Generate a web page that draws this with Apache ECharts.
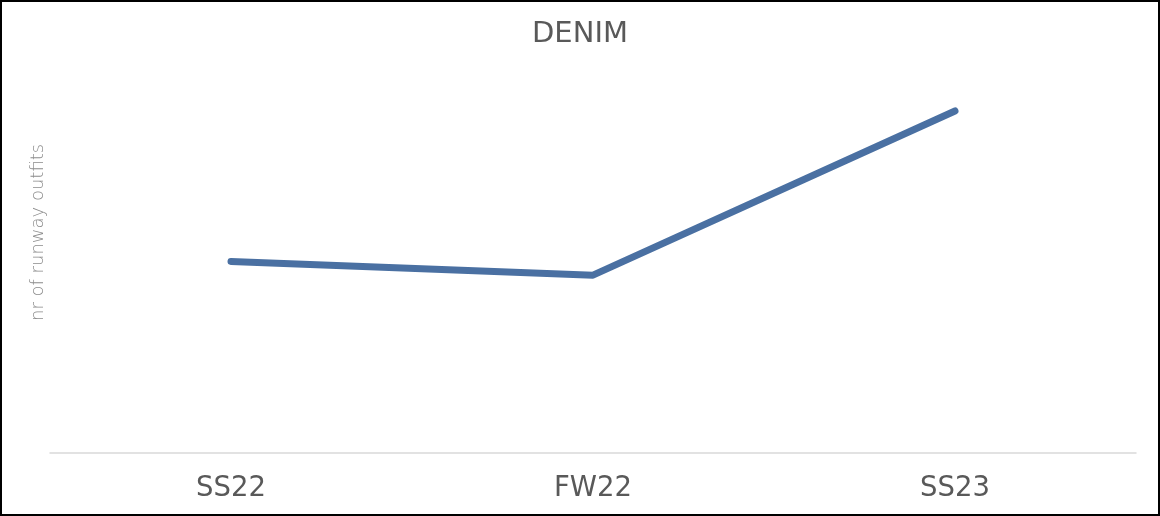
<!DOCTYPE html>
<html>
<head>
<meta charset="utf-8">
<script src="https://cdn.jsdelivr.net/npm/echarts@6/dist/echarts.min.js"></script>
<style>
html,body{margin:0;padding:0;background:#fff;}
#chart{position:absolute;left:0;top:0;width:1160px;height:516px;}
#frame{position:absolute;left:0;top:0;width:1160px;height:516px;box-sizing:border-box;border:2px solid #000;pointer-events:none;}
</style>
</head>
<body>
<div id="chart"></div>
<div id="frame"></div>
<script>
const categories = ["SS22", "FW22", "SS23"];
const outfits = [56, 52, 100];
const chartTitle = "DENIM";
const yName = "nr of runway outfits";

const chart = echarts.init(document.getElementById('chart'), null, {renderer: 'canvas'});
chart.setOption({
  animation: false,
  backgroundColor: '#ffffff',
  title: {
    text: chartTitle,
    left: 'center',
    top: 15,
    textStyle: {fontFamily: 'DejaVu Sans', fontSize: 29, fontWeight: 'normal', color: '#595959'}
  },
  grid: {left: 50, right: 24, top: 11.82, bottom: 63, containLabel: false},
  xAxis: {
    type: 'category',
    data: categories,
    boundaryGap: true,
    axisLine: {show: true, lineStyle: {color: '#d9d9d9', width: 1.5}},
    axisTick: {show: false},
    axisLabel: {fontFamily: 'DejaVu Sans', fontSize: 27.5, color: '#595959', margin: 22}
  },
  yAxis: {
    type: 'value',
    min: 0,
    max: 129,
    name: yName,
    nameLocation: 'middle',
    nameGap: 3,
    nameRotate: 90,
    nameTextStyle: {fontFamily: 'DejaVu Sans', fontSize: 18, fontWeight: 200, color: '#8c8c8c'},
    axisLine: {show: false},
    axisTick: {show: false},
    axisLabel: {show: false},
    splitLine: {show: false}
  },
  series: [{
    type: 'line',
    data: outfits,
    symbol: 'none',
    lineStyle: {color: '#4a70a2', width: 7, cap: 'round', join: 'round'}
  }]
});
</script>
</body>
</html>
